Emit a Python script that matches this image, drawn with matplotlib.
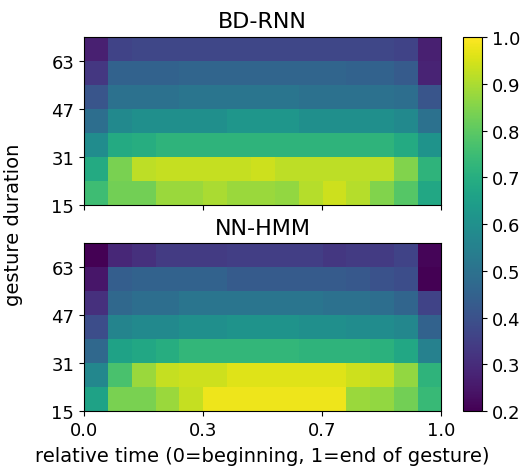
import numpy as np
import matplotlib
matplotlib.use('Agg')
import matplotlib.pyplot as plt

# значения по строкам: сверху (длинные жесты) вниз (короткие), 15 отрезков времени
bd_rnn = [
    [0.27, 0.36, 0.37, 0.37, 0.37, 0.37, 0.37, 0.37, 0.37, 0.37, 0.37, 0.37, 0.37, 0.36, 0.27],
    [0.33, 0.45, 0.45, 0.45, 0.46, 0.46, 0.46, 0.46, 0.46, 0.46, 0.46, 0.45, 0.45, 0.43, 0.28],
    [0.41, 0.50, 0.50, 0.50, 0.51, 0.51, 0.51, 0.51, 0.51, 0.50, 0.50, 0.50, 0.50, 0.49, 0.41],
    [0.49, 0.58, 0.60, 0.60, 0.60, 0.60, 0.62, 0.62, 0.62, 0.60, 0.60, 0.60, 0.60, 0.58, 0.50],
    [0.59, 0.69, 0.70, 0.72, 0.72, 0.72, 0.72, 0.72, 0.72, 0.72, 0.72, 0.72, 0.72, 0.69, 0.61],
    [0.69, 0.84, 0.92, 0.93, 0.93, 0.93, 0.93, 0.94, 0.92, 0.92, 0.92, 0.92, 0.92, 0.85, 0.72],
    [0.75, 0.83, 0.83, 0.88, 0.88, 0.90, 0.88, 0.88, 0.87, 0.91, 0.94, 0.91, 0.85, 0.79, 0.68],
]
nn_hmm = [
    [0.20, 0.29, 0.31, 0.34, 0.34, 0.34, 0.35, 0.35, 0.35, 0.35, 0.33, 0.34, 0.34, 0.36, 0.21],
    [0.25, 0.44, 0.45, 0.45, 0.45, 0.45, 0.43, 0.43, 0.43, 0.43, 0.43, 0.42, 0.40, 0.39, 0.20],
    [0.31, 0.47, 0.49, 0.49, 0.51, 0.51, 0.51, 0.51, 0.51, 0.51, 0.50, 0.50, 0.49, 0.46, 0.36],
    [0.39, 0.56, 0.58, 0.58, 0.60, 0.60, 0.61, 0.61, 0.61, 0.60, 0.60, 0.59, 0.59, 0.57, 0.45],
    [0.47, 0.66, 0.68, 0.70, 0.73, 0.73, 0.73, 0.73, 0.73, 0.72, 0.72, 0.72, 0.71, 0.68, 0.55],
    [0.57, 0.77, 0.88, 0.93, 0.94, 0.94, 0.96, 0.96, 0.96, 0.96, 0.96, 0.94, 0.93, 0.87, 0.72],
    [0.66, 0.84, 0.84, 0.88, 0.93, 0.98, 0.98, 0.98, 0.98, 0.98, 0.98, 0.88, 0.87, 0.83, 0.74],
]
titles = ['BD-RNN', 'NN-HMM']
y_ticks = [15, 31, 47, 63]
x_ticks = [0, 1/3, 2/3, 1]

fig = plt.figure(figsize=(5.31, 4.77), dpi=100)
ax1 = fig.add_axes([0.158, 0.568, 0.673, 0.352])
ax2 = fig.add_axes([0.158, 0.136, 0.673, 0.352], sharex=ax1)
cax = fig.add_axes([0.872, 0.136, 0.036, 0.784])

for ax, data, title in zip([ax1, ax2], [bd_rnn, nn_hmm], titles):
    im = ax.imshow(np.array(data), cmap='viridis', vmin=0.2, vmax=1.0,
                   aspect='auto', extent=[0, 1, 15, 71], origin='upper',
                   interpolation='nearest')
    ax.set_title(title, fontsize=16, pad=7)
    ax.set_yticks(y_ticks)
    ax.set_xticks(x_ticks)
    ax.tick_params(labelsize=13)

ax2.set_xticklabels(['%.1f' % t for t in x_ticks])
plt.setp(ax1.get_xticklabels(), visible=False)
ax2.set_xlabel('relative time (0=beginning, 1=end of gesture)', fontsize=14, labelpad=5)
fig.text(0.025, 0.528, 'gesture duration', rotation=90, ha='center', va='center', fontsize=14)

cb = fig.colorbar(im, cax=cax)
cb.ax.tick_params(labelsize=13)

plt.savefig('out.png', dpi=100)
